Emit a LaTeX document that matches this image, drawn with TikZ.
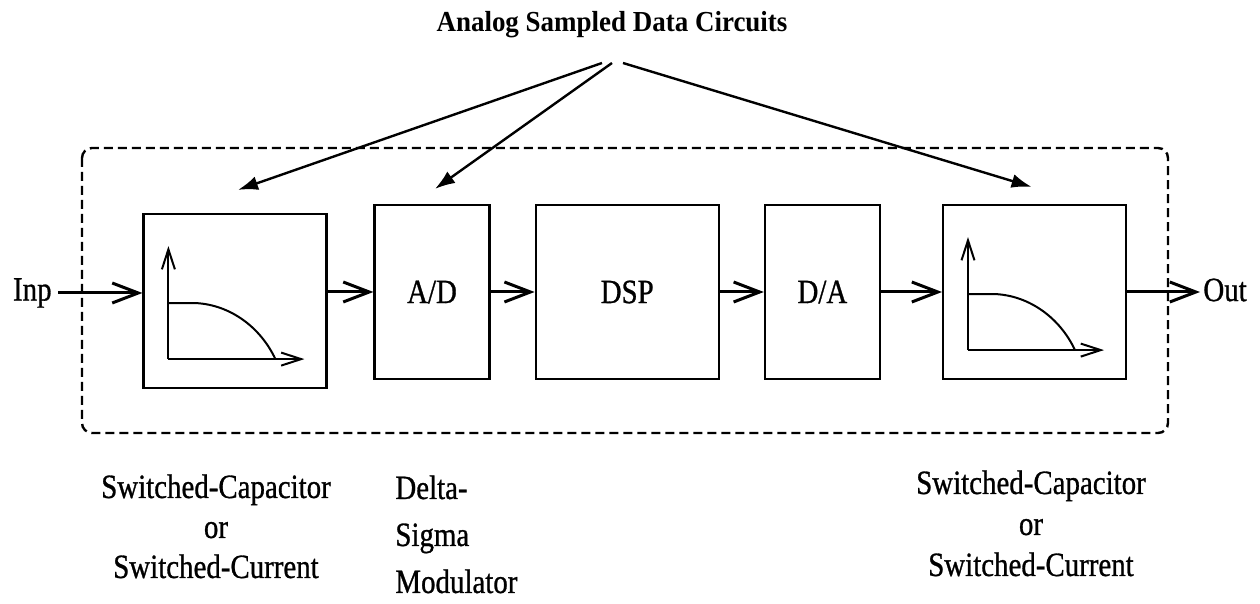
\documentclass[tikz,border=0pt]{standalone}
\usepackage{fontspec}
\setmainfont{Liberation Serif}
\newfontfamily\lblfont[FakeStretch=0.85,FakeBold=0.8]{Liberation Serif}
\newfontfamily\ttlfont[FakeStretch=0.93]{Liberation Serif}
\usetikzlibrary{arrows.meta,positioning}
\tikzstyle{block} = [rectangle, draw, line width=1.1pt, inner sep=0pt,
    font=\lblfont\fontsize{17}{20}\selectfont]
\tikzstyle{wide} = [block, minimum width=91.5pt, minimum height=87pt]
\tikzstyle{narrow} = [block, minimum width=57.5pt, minimum height=87pt]
\tikzstyle{note} = [inner sep=0pt, font=\lblfont\fontsize{17}{20}\selectfont]
\tikzstyle{line} = [draw, line width=1.5pt, -{Straight Barb[length=13pt,width=10pt]}]
\tikzstyle{axis} = [draw, line width=1pt, -{Straight Barb[length=10pt,width=6.5pt]}]
\tikzstyle{pointer} = [draw, line width=1.2pt, -{Latex[length=10pt,width=7pt]}]

\begin{document}
\begin{tikzpicture}[x=0.5pt, y=-0.5pt]
    \useasboundingbox (0,0) rectangle (1260,604);
    % Place nodes
    \node [font=\ttlfont\bfseries\fontsize{14.5}{17}\selectfont] (title) at (612,25) {Analog Sampled Data Circuits};
    \node [wide] (sc1) at (235,301) {};
    \node [narrow] (ad) at (432,292) {A/D};
    \node [wide, right=22pt of ad] (dsp) {DSP};
    \node [narrow, right=22pt of dsp] (da) {D/A};
    \node [wide, right=30.5pt of da] (sc2) {};
    \node [note, anchor=east] (inp) at (52,293) {Inp};
    \node [note, anchor=west] (out) at (1203,290) {Out};

    % Analog part
    \draw [dashed, line width=1.2pt, dash pattern=on 4.5pt off 2.5pt, rounded corners=5pt] (82,148) rectangle (1168,433);

    % Filter curves
    \foreach \b in {sc1,sc2} {
        \begin{scope}[shift={(\b.south west)}]
            \path [axis] (26,-30) -- (26,-143);
            \path [axis] (26,-30) -- (162,-30);
            \draw [line width=1pt] (26,-86) -- (54,-86) .. controls (88,-84) and (118,-62) .. (133,-30);
        \end{scope}
    }

    % Draw edges
    \path [line] ([xshift=3pt]inp.east) -- (inp -| sc1.west);
    \path [line] (sc1.east |- ad.west) -- (ad.west);
    \path [line] (ad) -- (dsp);
    \path [line] (dsp) -- (da);
    \path [line] (da) -- (sc2);
    \path [line, shorten >=1.5pt] (sc2.east) -- (sc2.east -| out.west);

    % Pointers
    \coordinate (fan) at (612,63);
    \path [pointer] ([xshift=-5pt]fan) -- ([xshift=1.5pt,yshift=11.5pt]sc1.north);
    \path [pointer] (fan) -- ([xshift=1.5pt,yshift=7.5pt]ad.north);
    \path [pointer] ([xshift=5.5pt]fan) -- ([xshift=-1.5pt,yshift=8.5pt]sc2.north);

    % Captions
    \node [note, align=center, anchor=north] (sctext1) at (216,474) {Switched-Capacitor\\or\\Switched-Current};
    \node [note, align=left, anchor=north west, font=\lblfont\fontsize{17}{23.5}\selectfont] (dstext) at (395,475) {Delta-\\Sigma\\Modulator};
    \node [note, align=center, anchor=north, font=\lblfont\fontsize{17}{20.5}\selectfont] (sctext2) at (1031,470) {Switched-Capacitor\\or\\Switched-Current};
\end{tikzpicture}
\end{document}
